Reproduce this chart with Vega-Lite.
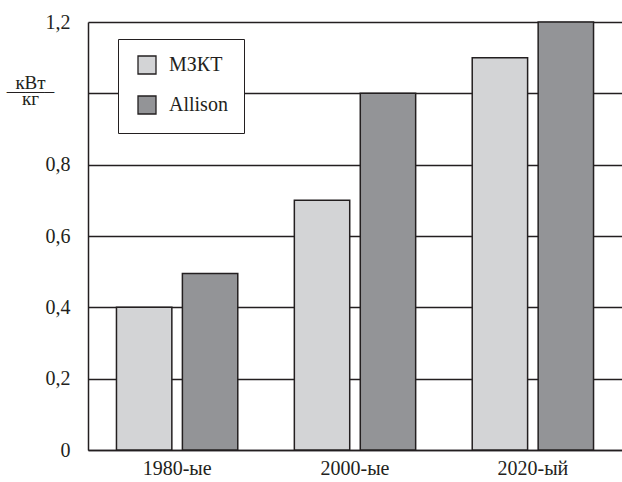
{
  "$schema": "https://vega.github.io/schema/vega-lite/v6.json",
  "width": 534,
  "height": 428,
  "autosize": {"type": "none"},
  "padding": {"left": 88, "top": 22, "right": 0, "bottom": 32},
  "background": "white",
  "config": {
    "view": {"stroke": null},
    "font": "Liberation Serif",
    "axis": {"labelFont": "Liberation Serif", "titleFont": "Liberation Serif", "labelColor": "#231f20", "titleColor": "#231f20", "titleFontWeight": "normal"},
    "legend": {"labelFont": "Liberation Serif"}
  },
  "data": {
    "values": [
      {"period": "1980-ые", "maker": "МЗКТ", "value": 0.4},
      {"period": "1980-ые", "maker": "Allison", "value": 0.495},
      {"period": "2000-ые", "maker": "МЗКТ", "value": 0.7},
      {"period": "2000-ые", "maker": "Allison", "value": 1.0},
      {"period": "2020-ый", "maker": "МЗКТ", "value": 1.1},
      {"period": "2020-ый", "maker": "Allison", "value": 1.2}
    ]
  },
  "mark": {"type": "bar", "stroke": "#231f20", "strokeWidth": 1.5},
  "encoding": {
    "x": {
      "field": "period",
      "type": "nominal",
      "sort": ["1980-ые", "2000-ые", "2020-ый"],
      "scale": {"paddingInner": 0.318, "paddingOuter": 0.16},
      "axis": {
        "title": null,
        "labelAngle": 0,
        "labelFontSize": 20,
        "labelPadding": 8,
        "ticks": false,
        "domainColor": "#231f20",
        "domainWidth": 1.5
      }
    },
    "xOffset": {
      "field": "maker",
      "type": "nominal",
      "sort": ["МЗКТ", "Allison"],
      "scale": {"paddingInner": 0.16, "paddingOuter": 0}
    },
    "y": {
      "field": "value",
      "type": "quantitative",
      "scale": {"domain": [0, 1.2], "nice": false},
      "axis": {
        "values": [0, 0.2, 0.4, 0.6, 0.8, 1.0, 1.2],
        "labelExpr": "datum.value == 0 ? '0' : (abs(datum.value - 1) < 0.001 ? '' : replace(format(datum.value, '.1f'), '.', ','))",
        "labelFontSize": 20,
        "labelPadding": 18,
        "ticks": false,
        "grid": true,
        "gridColor": "#231f20",
        "gridWidth": 1.3,
        "domainColor": "#231f20",
        "domainWidth": 1.5,
        "title": ["кВт", "——–", "кг"],
        "titleFontSize": 19,
        "titleAngle": 0,
        "titleAlign": "center",
        "titleBaseline": "alphabetic",
        "titleLineHeight": 8,
        "titleX": -58,
        "titleY": 66
      }
    },
    "fill": {
      "field": "maker",
      "type": "nominal",
      "sort": ["МЗКТ", "Allison"],
      "scale": {"domain": ["МЗКТ", "Allison"], "range": ["#d3d4d6", "#939497"]},
      "legend": {
        "title": null,
        "orient": "none",
        "legendX": 30,
        "legendY": 17,
        "fillColor": "white",
        "strokeColor": "#231f20",
        "padding": 16,
        "symbolOffset": 3,
        "symbolType": "square",
        "symbolSize": 324,
        "symbolStrokeColor": "#231f20",
        "symbolStrokeWidth": 1.3,
        "labelFontSize": 20,
        "labelColor": "#231f20",
        "labelOffset": 12,
        "labelExpr": "datum.label + '\u00a0\u00a0\u00a0'",
        "rowPadding": 16
      }
    }
  }
}
